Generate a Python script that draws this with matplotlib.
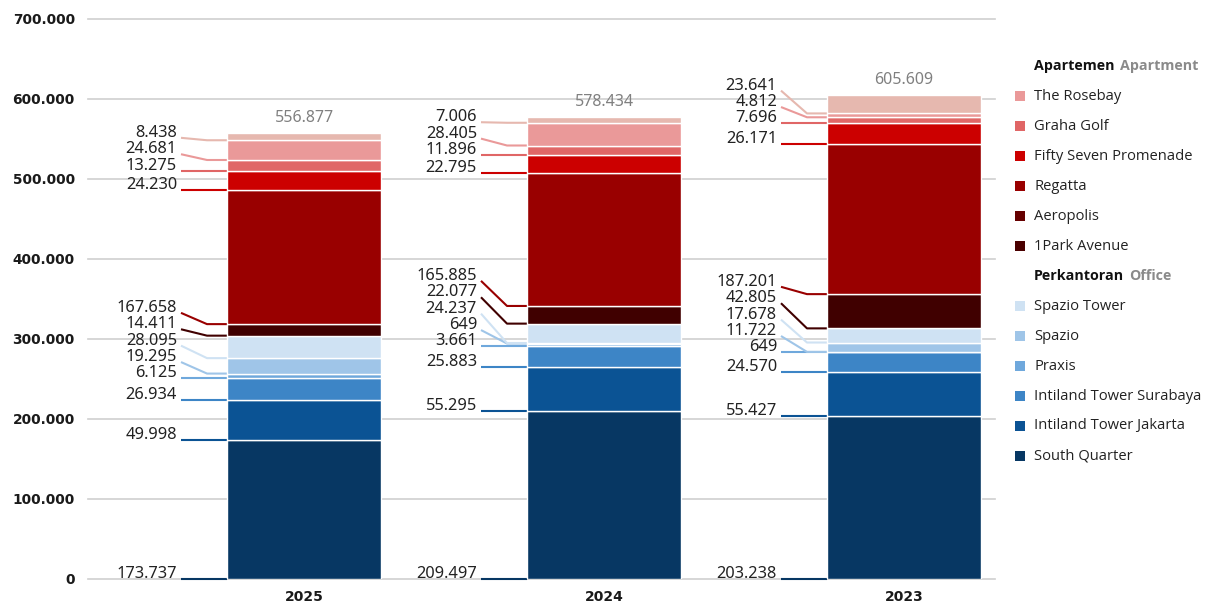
import matplotlib
matplotlib.use("Agg")
import matplotlib.pyplot as plt
import matplotlib.transforms as mtransforms
from matplotlib.patches import Rectangle

# ---------------- data ----------------
years = ["2025", "2024", "2023"]
totals = [556877, 578434, 605609]

# stacked segments, bottom -> top
seg_names = ["South Quarter", "Intiland Tower Jakarta", "Intiland Tower Surabaya",
             "Praxis", "Spazio", "Spazio Tower", "1Park Avenue", "Aeropolis",
             "Regatta", "Fifty Seven Promenade", "Graha Golf", "The Rosebay"]
seg_colors = ["#073763", "#0b5394", "#3d85c6", "#6fa8dc", "#9fc5e8", "#cfe2f3",
              "#400000", "#990000", "#cc0000", "#e06666", "#ea9999", "#e6b8af"]

vals_2025 = [173737, 49998, 26934, 6125, 19295, 28095, 14411, 167658, 24230, 13275, 24681, 8438]
vals_2024 = [209497, 55295, 25883, 3661, 649, 24237, 22077, 165885, 22795, 11896, 28405, 7006]
vals_2023 = [203238, 55427, 24570, 649, 11722, 17678, 42805, 187201, 26171, 7696, 4812, 23641]
values = [vals_2025, vals_2024, vals_2023]

# legend (as printed)
apt_head = ("Apartemen", "Apartment")
apt_names = ["The Rosebay", "Graha Golf", "Fifty Seven Promenade", "Regatta",
             "Aeropolis", "1Park Avenue"]
apt_colors = ["#ea9999", "#e06666", "#cc0000", "#990000", "#660000", "#4a0000"]
off_head = ("Perkantoran", "Office")
off_names = ["Spazio Tower", "Spazio", "Praxis", "Intiland Tower Surabaya",
             "Intiland Tower Jakarta", "South Quarter"]
off_colors = ["#cfe2f3", "#9fc5e8", "#6fa8dc", "#3d85c6", "#0b5394", "#073763"]

yticks = [0, 100000, 200000, 300000, 400000, 500000, 600000, 700000]


def fmt(v):
    return f"{v:,}".replace(",", ".")


# ---------------- figure ----------------
W, H = 1214, 604
fig = plt.figure(figsize=(W / 100, H / 100), dpi=100)
ax_l, ax_r, ax_top, ax_bot = 88, 995, 19, 579
ax = fig.add_axes([ax_l / W, 1 - ax_bot / H, (ax_r - ax_l) / W, (ax_bot - ax_top) / H])

px_per_unit = 300.0
x_pos = [0, 1, 2]
ax.set_xlim(-(304 - ax_l) / px_per_unit, (ax_r - 304) / px_per_unit)
ax.set_ylim(0, 700000)

bar_w = 154 / px_per_unit
num_font = "Noto Sans"

for xi, vals, tot in zip(x_pos, values, totals):
    bottom = 0
    bottoms = []
    for v, c in zip(vals, seg_colors):
        ax.bar(xi, v, bottom=bottom, width=bar_w, color=c, edgecolor="white",
               linewidth=1.0, zorder=3)
        bottoms.append(bottom)
        bottom += v
    # total label
    off = mtransforms.offset_copy(ax.transData, fig=fig, x=0, y=15, units="dots")
    ax.text(xi, bottom, fmt(tot), transform=off, ha="center", va="center",
            fontsize=11.5, color="#808080", family=num_font)
    # value labels with leader lines
    gap = 20500
    lab_y = []
    prev = None
    for b in bottoms:
        y = b if prev is None else max(b, prev + gap)
        lab_y.append(y)
        prev = y
    bar_left = xi - bar_w / 2
    x_start = bar_left - 46 / px_per_unit
    x_bend = bar_left - 20 / px_per_unit
    x_text = bar_left - 50 / px_per_unit
    toff = mtransforms.offset_copy(ax.transData, fig=fig, x=0, y=5, units="dots")
    for v, b, ly, c in zip(vals, bottoms, lab_y, seg_colors):
        ax.plot([x_start, x_bend, bar_left], [ly, b, b], color=c, lw=1.5,
                zorder=2, solid_capstyle="butt", clip_on=False)
        ax.text(x_text, ly, fmt(v), transform=toff, ha="right", va="center",
                fontsize=11.8, color="#222222", family=num_font)

# axes styling
for s in ax.spines.values():
    s.set_visible(False)
ax.set_yticks(yticks)
ax.set_yticklabels([fmt(t) for t in yticks], fontsize=9.9, fontweight="bold",
                   color="#1a1a1a", family="DejaVu Sans")
ax.set_xticks(x_pos)
ax.set_xticklabels(years, fontsize=10, fontweight="bold", color="#1a1a1a",
                   family="DejaVu Sans")
ax.tick_params(axis="y", length=0, pad=9.5)
ax.tick_params(axis="x", length=0, pad=8)
ax.set_axisbelow(True)
ax.yaxis.grid(True, color="#cfcfcf", linewidth=1.2)
for gl in ax.get_ygridlines():
    gl.set_clip_on(False)

# ---------------- legend ----------------
leg_font = "Open Sans"


def fx(px):
    return px / W


def fy(py):
    return 1 - py / H


fig.canvas.draw()
renderer = fig.canvas.get_renderer()
row = 66
for head, names, colors in [(apt_head, apt_names, apt_colors), (off_head, off_names, off_colors)]:
    t1 = fig.text(fx(1034), fy(row), head[0], ha="left", va="center", fontsize=10.3,
                  fontweight="bold", color="#111111", family=leg_font)
    bb = t1.get_window_extent(renderer)
    fig.text(bb.x1 / W + 5 / W, fy(row), head[1], ha="left", va="center", fontsize=10.3,
             fontweight="bold", color="#8a8a8a", family=leg_font)
    row += 30
    for n, c in zip(names, colors):
        fig.patches.append(Rectangle((fx(1015), fy(row + 5)), 10 / W, 10 / H,
                                     transform=fig.transFigure, facecolor=c,
                                     edgecolor="none"))
        fig.text(fx(1034), fy(row), n, ha="left", va="center", fontsize=10.6,
                 color="#222222", family=leg_font)
        row += 30

fig.savefig("out.png", dpi=100)
